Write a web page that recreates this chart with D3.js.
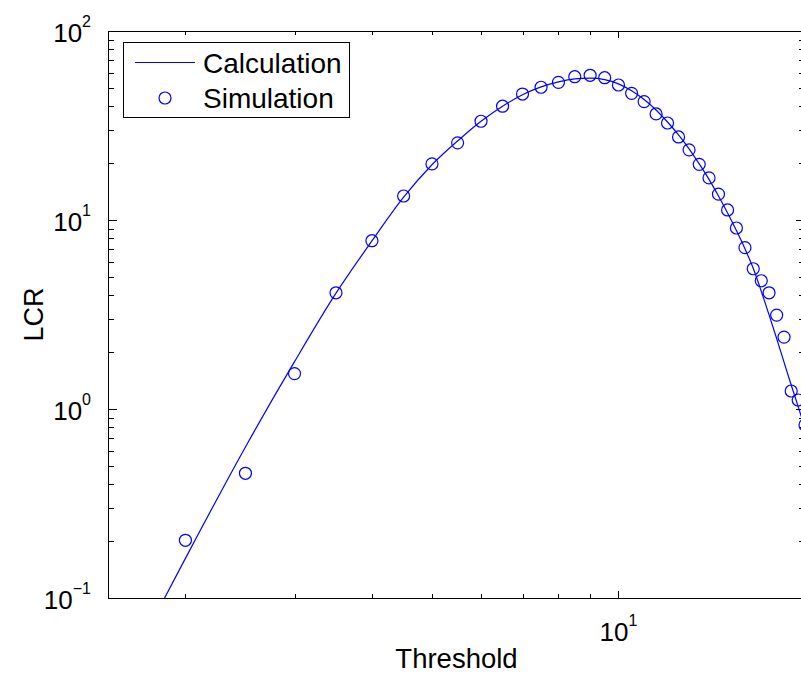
<!DOCTYPE html>
<html>
<head>
<meta charset="UTF-8">
<title>LCR vs Threshold</title>
<script src="https://d3js.org/d3.v7.min.js"></script>
<style>
  body { margin: 0; background: #fff; }
  svg { display: block; font-family: "Liberation Sans", Arial, sans-serif; }
</style>
</head>
<body>
<svg id="chart" width="801" height="674"></svg>
<script>
// simulation points
const simThreshold = [2, 2.5, 3, 3.5, 4, 4.5, 5, 5.5, 6, 6.5, 7, 7.5, 8, 8.5, 9, 9.5, 10,
  10.5, 11, 11.5, 12, 12.5, 13, 13.5, 14, 14.5, 15, 15.5, 16, 16.5, 17, 17.5, 18, 18.5, 19, 19.5, 20];
const simLCR = [0.202, 0.457, 1.54, 4.12, 7.77, 13.4, 19.8, 25.6, 33.3, 40.0, 46.4, 50.4, 53.5, 57.3, 58.3, 56.6, 51.8,
  46.8, 42.3, 36.4, 32.6, 27.5, 23.5, 19.7, 16.7, 13.7, 11.3, 9.07, 7.14, 5.52, 4.77, 4.12, 3.14, 2.40, 1.245, 1.116, 0.823];

// calculated curve
const calcThreshold = [1.8, 2, 2.5, 3, 3.5, 4, 4.5, 5, 5.5, 6, 6.5, 7, 7.5, 8, 8.5, 9, 9.5, 10,
  10.5, 11, 11.5, 12, 12.5, 13, 13.5, 14, 14.5, 15, 15.5, 16, 16.5, 17, 17.5, 18, 18.5, 19, 19.5, 20];
const calcLCR = [0.084, 0.162, 0.63, 1.78, 4.1, 7.75, 13.2, 19.6, 26.2, 33.3, 40.0, 46.0, 50.6, 53.8, 55.8, 56.3, 55.3, 52.5,
  48.3, 43.4, 38.2, 33.0, 28.2, 23.8, 19.8, 16.4, 13.4, 10.9, 8.8, 7.05, 5.55, 4.2, 3.15, 2.36, 1.77, 1.34, 1.03, 0.79];

const xMajor = [10];
const xMinor = [2, 3, 4, 5, 6, 7, 8, 9, 20];
const yMajor = [0.1, 1, 10, 100];
const yMinor = [0.2, 0.3, 0.4, 0.5, 0.6, 0.7, 0.8, 0.9, 2, 3, 4, 5, 6, 7, 8, 9, 20, 30, 40, 50, 60, 70, 80, 90];
const xLabels = [{v: 10, exp: "1"}];
const yLabels = [{v: 100, exp: "2"}, {v: 10, exp: "1"}, {v: 1, exp: "0"}, {v: 0.1, exp: "\u22121"}];

const blue = "#0000ff";
const m = {left: 108, right: 805, top: 31, bottom: 598};

const svg = d3.select("#chart");
svg.append("rect").attr("width", 801).attr("height", 674).attr("fill", "#fff");

const x = d3.scaleLog().domain([1.5, 20]).range([m.left, m.right]);
const y = d3.scaleLog().domain([0.1, 100]).range([m.bottom, m.top]);

svg.append("clipPath").attr("id", "plot")
  .append("rect").attr("x", m.left).attr("y", m.top)
  .attr("width", m.right - m.left).attr("height", m.bottom - m.top);

// ticks, pointing inward on all four sides
const tk = svg.append("g").attr("stroke", "#000").attr("stroke-width", 1);
function xTicks(vals, len) {
  vals.forEach(v => {
    const px = Math.round(x(v)) + 0.5;
    tk.append("line").attr("x1", px).attr("x2", px).attr("y1", m.bottom).attr("y2", m.bottom - len);
    tk.append("line").attr("x1", px).attr("x2", px).attr("y1", m.top).attr("y2", m.top + len);
  });
}
function yTicks(vals, len) {
  vals.forEach(v => {
    const py = Math.round(y(v)) + 0.5;
    tk.append("line").attr("y1", py).attr("y2", py).attr("x1", m.left).attr("x2", m.left + len);
    tk.append("line").attr("y1", py).attr("y2", py).attr("x1", m.right).attr("x2", m.right - len);
  });
}
xTicks(xMajor, 7);
xTicks(xMinor, 4);
yTicks(yMajor, 9);
yTicks(yMinor, 6);

// axes box
svg.append("rect")
  .attr("x", m.left + 0.5).attr("y", m.top + 0.5)
  .attr("width", m.right - m.left).attr("height", m.bottom - m.top)
  .attr("fill", "none").attr("stroke", "#000").attr("stroke-width", 1);

// tick labels
xLabels.forEach(d => {
  const t = svg.append("text").attr("x", x(d.v)).attr("y", 641)
    .attr("text-anchor", "middle").attr("font-size", 26).attr("fill", "#000");
  t.append("tspan").text("10");
  t.append("tspan").attr("dy", -15).attr("font-size", 16).text(d.exp);
});
yLabels.forEach(d => {
  const t = svg.append("text").attr("x", 91).attr("y", y(d.v) + 11)
    .attr("text-anchor", "end").attr("font-size", 26).attr("fill", "#000");
  t.append("tspan").text("10");
  t.append("tspan").attr("dy", -15).attr("font-size", 16).text(d.exp);
});

// axis titles
svg.append("text").attr("x", (m.left + m.right) / 2).attr("y", 668)
  .attr("text-anchor", "middle").attr("font-size", 27.5).text("Threshold");
svg.append("text").attr("transform", `translate(43,${(m.top + m.bottom) / 2}) rotate(-90)`)
  .attr("text-anchor", "middle").attr("font-size", 27).text("LCR");

// data
const plot = svg.append("g").attr("clip-path", "url(#plot)");
const line = d3.line().curve(d3.curveMonotoneX).x(d => x(d[0])).y(d => y(d[1]));
plot.append("path")
  .datum(calcThreshold.map((t, i) => [t, calcLCR[i]]))
  .attr("d", line).attr("fill", "none").attr("stroke", blue).attr("stroke-width", 1.2);

svg.append("g").selectAll("circle")
  .data(simThreshold.map((t, i) => [t, simLCR[i]]))
  .join("circle")
  .attr("cx", d => x(d[0])).attr("cy", d => y(d[1])).attr("r", 6)
  .attr("fill", "none").attr("stroke", blue).attr("stroke-width", 1.2);

// legend
const lg = svg.append("g");
lg.append("rect").attr("x", 123.5).attr("y", 42.5).attr("width", 226).attr("height", 75)
  .attr("fill", "#fff").attr("stroke", "#000").attr("stroke-width", 1);
lg.append("line").attr("x1", 135).attr("x2", 195).attr("y1", 62.5).attr("y2", 62.5)
  .attr("stroke", blue).attr("stroke-width", 1.2);
lg.append("circle").attr("cx", 165).attr("cy", 98).attr("r", 6)
  .attr("fill", "none").attr("stroke", blue).attr("stroke-width", 1.2);
lg.append("text").attr("x", 203).attr("y", 73).attr("font-size", 28).text("Calculation");
lg.append("text").attr("x", 203).attr("y", 108).attr("font-size", 28).text("Simulation");
</script>
</body>
</html>
